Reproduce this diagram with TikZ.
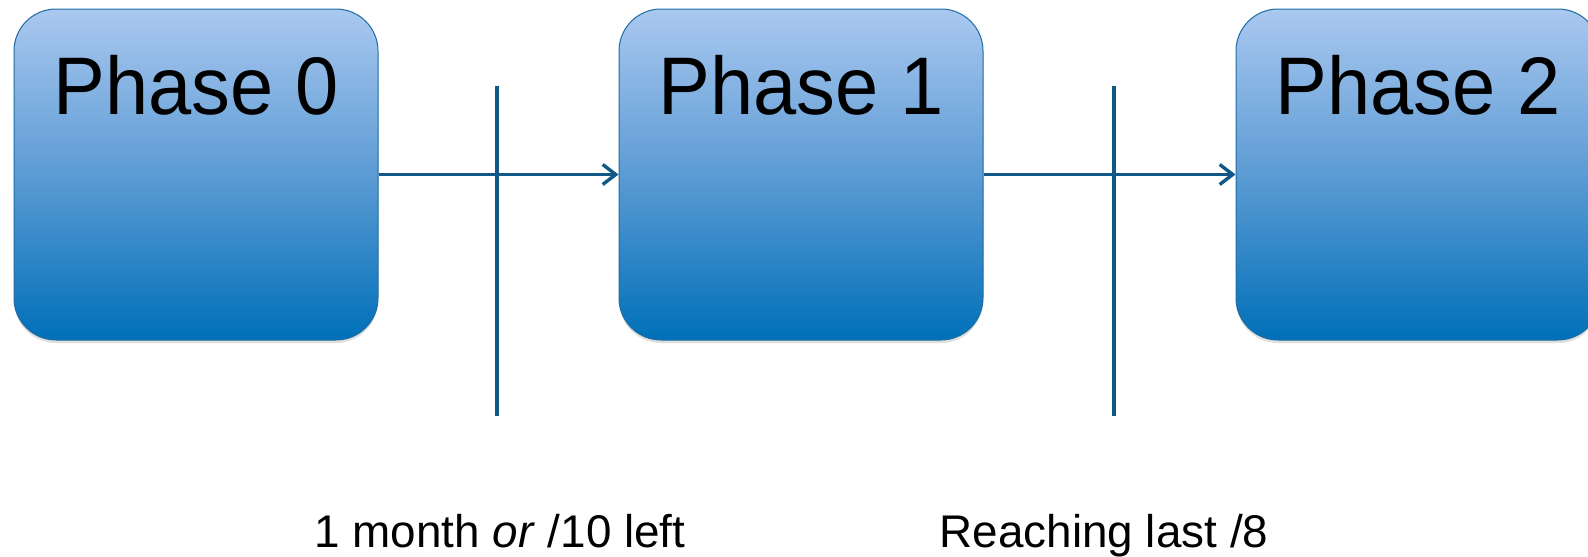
\documentclass[tikz,border=0pt]{standalone}
\usepackage{fontspec}
\setmainfont{Liberation Sans}
\newfontfamily\phasefont[FakeStretch=0.95]{Liberation Sans}
\usetikzlibrary{arrows.meta,shadows}
\definecolor{phasetop}{RGB}{170,200,240}
\definecolor{phasemid}{RGB}{92,155,212}
\definecolor{phasebot}{RGB}{0,112,184}
\definecolor{phaseborder}{RGB}{30,108,162}
\definecolor{flowcol}{RGB}{18,88,135}
\tikzset{
  phasebox/.style={draw=phaseborder, line width=0.5bp, rounded corners=21bp,
    minimum width=182bp, minimum height=165.5bp, inner sep=0bp,
    top color=phasetop, bottom color=phasebot, middle color=phasemid,
    drop shadow={shadow xshift=0bp, shadow yshift=-1.5bp, opacity=0.25}},
  phasetext/.style={font=\phasefont\fontsize{41}{41}\selectfont, anchor=base, inner sep=0bp},
  gatetext/.style={font=\fontsize{23}{23}\selectfont, anchor=base, inner sep=0bp},
  cutline/.style={draw=flowcol, line width=1.7bp},
  flow/.style={draw=flowcol, line width=1.7bp, -{Straight Barb[length=6.5bp,width=10bp]}},
}
\begin{document}
\begin{tikzpicture}
  \useasboundingbox (0bp,0bp) rectangle (794bp,-278.5bp);
  % Node: phase0
  \node[phasebox] (phase0) at (98bp,-87.25bp) {};
  \node[phasetext] (phase0text) at ([yshift=-53bp]phase0.north) {Phase 0};
  % Node: phase1
  \node[phasebox] (phase1) at (400.5bp,-87.25bp) {};
  \node[phasetext] (phase1text) at ([yshift=-53bp]phase1.north) {Phase 1};
  % Node: phase2
  \node[phasebox] (phase2) at (709bp,-87.25bp) {};
  \node[phasetext] (phase2text) at ([yshift=-53bp]phase2.north) {Phase 2};
  % Edge: phase0 -> phase1
  \draw[flow] (phase0.east) -- (phase1.west);
  % Edge: phase1 -> phase2
  \draw[flow] (phase1.east) -- (phase2.west);
  % Cut: phase0 | phase1
  \coordinate (cut01top) at (248.5bp,-43bp);
  \coordinate (cut01bot) at (248.5bp,-208bp);
  \draw[cutline] (cut01top) -- (cut01bot);
  \node[gatetext] (cut01text) at (250bp,-273.5bp) {1 month \textit{or} /10 left};
  % Cut: phase1 | phase2
  \coordinate (cut12top) at (557bp,-43bp);
  \coordinate (cut12bot) at (557bp,-208bp);
  \draw[cutline] (cut12top) -- (cut12bot);
  \node[gatetext] (cut12text) at (552bp,-273.5bp) {Reaching last /8};
\end{tikzpicture}
\end{document}
